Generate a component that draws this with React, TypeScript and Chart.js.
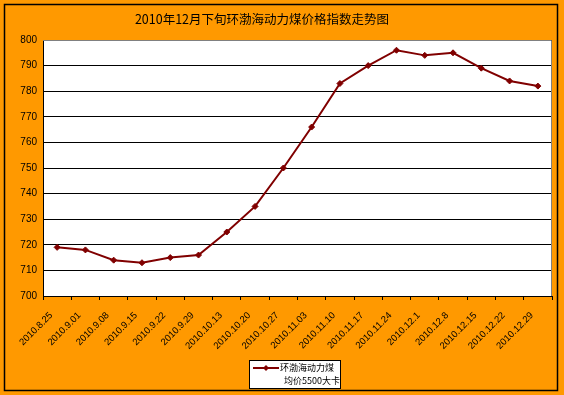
import { useEffect, useRef } from 'react';
import { Chart, registerables } from 'chart.js';

Chart.register(...registerables);

const categories = [
  '2010.8.25', '2010.9.01', '2010.9.08', '2010.9.15', '2010.9.22', '2010.9.29',
  '2010.10.13', '2010.10.20', '2010.10.27', '2010.11.03', '2010.11.10', '2010.11.17',
  '2010.11.24', '2010.12.1', '2010.12.8', '2010.12.15', '2010.12.22', '2010.12.29',
];
const prices = [719, 718, 714, 713, 715, 716, 725, 735, 750, 766, 783, 790, 796, 794, 795, 789, 784, 782];
const yMin = 700;
const yMax = 800;
const yStep = 10;
const titleText = '2010年12月下旬环渤海动力煤价格指数走势图';
const legendLines = ['环渤海动力煤', '均价5500大卡'];

const ORANGE = '#FF9900';
const LINE = '#800000';
const CJK = '"Noto Sans CJK SC", "Liberation Sans", sans-serif';

const decorPlugin = {
  id: 'decor',
  beforeDraw(chart: any) {
    const { ctx, width, height, chartArea } = chart;
    ctx.save();
    ctx.fillStyle = ORANGE;
    ctx.fillRect(0, 0, width, height);
    ctx.strokeStyle = '#000';
    ctx.lineWidth = 1.5;
    ctx.strokeRect(4.5, 4.5, 553, 386);
    ctx.fillStyle = '#fff';
    ctx.fillRect(chartArea.left, chartArea.top, chartArea.right - chartArea.left, chartArea.bottom - chartArea.top);
    ctx.restore();
  },
  beforeDatasetsDraw(chart: any) {
    const { ctx, chartArea } = chart;
    ctx.save();
    ctx.strokeStyle = '#808080';
    ctx.lineWidth = 1;
    ctx.beginPath();
    ctx.moveTo(chartArea.left, chartArea.top + 0.5);
    ctx.lineTo(chartArea.right - 0.5, chartArea.top + 0.5);
    ctx.lineTo(chartArea.right - 0.5, chartArea.bottom);
    ctx.stroke();
    ctx.restore();
  },
  afterDraw(chart: any) {
    const { ctx } = chart;
    ctx.save();
    // title
    ctx.fillStyle = '#000';
    ctx.font = `12.5px ${CJK}`;
    ctx.textAlign = 'center';
    ctx.textBaseline = 'middle';
    ctx.fillText(titleText, 262, 19);
    // legend box
    ctx.fillStyle = '#fff';
    ctx.fillRect(249.5, 360.5, 91, 28);
    ctx.strokeStyle = '#000';
    ctx.lineWidth = 1;
    ctx.strokeRect(249.5, 360.5, 91, 28);
    ctx.strokeStyle = LINE;
    ctx.lineWidth = 2;
    ctx.beginPath();
    ctx.moveTo(253, 368);
    ctx.lineTo(279, 368);
    ctx.stroke();
    ctx.fillStyle = LINE;
    ctx.beginPath();
    ctx.moveTo(266, 365);
    ctx.lineTo(269, 368);
    ctx.lineTo(266, 371);
    ctx.lineTo(263, 368);
    ctx.closePath();
    ctx.fill();
    ctx.fillStyle = '#000';
    ctx.font = `9px ${CJK}`;
    ctx.textAlign = 'left';
    ctx.fillText(legendLines[0], 280, 368);
    ctx.fillText(legendLines[1], 284, 381);
    ctx.restore();
  },
};

export default function App() {
  const ref = useRef<HTMLCanvasElement>(null);
  useEffect(() => {
    if (!ref.current) return;
    const chart = new Chart(ref.current, {
      type: 'line',
      data: {
        labels: categories,
        datasets: [
          {
            label: legendLines.join(''),
            data: prices,
            borderColor: LINE,
            backgroundColor: LINE,
            borderWidth: 2,
            pointStyle: 'rectRot',
            pointRadius: 3,
            pointBorderWidth: 1,
            tension: 0,
          },
        ],
      },
      plugins: [decorPlugin],
      options: {
        responsive: false,
        animation: false,
        layout: { padding: { left: 7, right: 12, top: 40, bottom: 0 } },
        plugins: {
          legend: { display: false },
          title: { display: false },
          tooltip: { enabled: false },
        },
        scales: {
          x: {
            offset: true,
            afterFit: (scale: any) => { scale.height = 99; },
            grid: {
              offset: true,
              drawOnChartArea: false,
              drawTicks: true,
              tickLength: 4,
              color: '#000',
            },
            border: { display: true, color: '#000', width: 1 },
            ticks: {
              autoSkip: false,
              maxRotation: 45,
              minRotation: 45,
              padding: 10,
              labelOffset: -6,
              color: '#000',
              font: { size: 9.5, family: '"Liberation Sans", sans-serif' },
            },
          },
          y: {
            min: yMin,
            max: yMax,
            afterFit: (scale: any) => { scale.width = 36; },
            grid: { color: '#000', lineWidth: 1, drawTicks: false },
            border: { display: true, color: '#000', width: 1 },
            ticks: {
              stepSize: yStep,
              padding: 6,
              color: '#000',
              font: { size: 10, family: '"Liberation Sans", sans-serif' },
            },
          },
        },
      },
    });
    return () => chart.destroy();
  }, []);
  return (
    <div style={{ position: 'fixed', left: 0, top: 0, width: 564, height: 395 }}>
      <canvas ref={ref} width={564} height={395} />
    </div>
  );
}
